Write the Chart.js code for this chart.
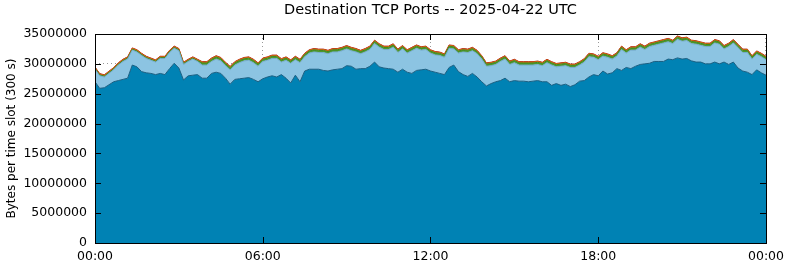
<!DOCTYPE html>
<html>
<head>
<meta charset="utf-8">
<script src="https://cdn.jsdelivr.net/npm/chart.js@4.4.1/dist/chart.umd.min.js"></script>
<style>
  html, body { margin: 0; padding: 0; background: #fff; }
  canvas { display: block; }
</style>
</head>
<body>
<canvas id="chart" width="790" height="267"></canvas>
<script>
// 10 minute slots over the day, 0..144
const slots = Array.from({ length: 145 }, (_, i) => i);

const xTickSlots = [0, 36, 72, 108, 144];
const xTickLabels = ['00:00', '06:00', '12:00', '18:00', '00:00'];
const yTicks = [0, 5000000, 10000000, 15000000, 20000000, 25000000, 30000000, 35000000];

// values in millions of bytes per slot
const darkBlue = [
    27.0, 25.9, 26.0, 26.5, 27.0, 27.2, 27.4, 27.6, 29.8, 29.5,
    28.7, 28.5, 28.4, 28.2, 28.4, 28.2, 29.2, 30.1, 29.3, 27.3,
    28.0, 28.1, 28.2, 27.6, 27.6, 28.4, 28.6, 28.4, 27.6, 26.6,
    27.4, 27.5, 27.6, 27.7, 27.4, 27.0, 27.5, 27.8, 28.0, 27.8,
    28.2, 27.6, 26.8, 28.1, 27.0, 28.8, 29.1, 29.1, 29.1, 28.9,
    28.8, 29.0, 29.1, 29.2, 29.7, 29.6, 29.1, 29.2, 29.2, 29.6,
    30.3, 29.5, 29.3, 29.2, 29.1, 28.6, 29.1, 28.6, 28.4, 28.9,
    29.0, 29.1, 28.8, 28.6, 28.4, 28.2, 29.4, 29.8, 28.7, 28.2,
    27.9, 28.4, 27.8, 27.0, 26.3, 26.7, 27.0, 27.2, 27.6, 27.0,
    27.2, 27.1, 27.1, 27.0, 27.1, 27.2, 27.0, 27.0, 26.4, 26.7,
    26.4, 26.6, 26.2, 26.5, 27.1, 27.2, 27.8, 28.2, 28.0, 28.8,
    28.3, 28.5, 29.2, 28.9, 29.4, 29.2, 29.6, 29.9, 30.0, 30.1,
    30.4, 30.4, 30.4, 30.8, 30.7, 31.0, 30.8, 30.9, 30.5, 30.3,
    30.3, 30.0, 30.0, 30.3, 30.0, 30.3, 29.9, 30.3, 29.3, 28.8,
    28.6, 28.2, 29.0, 28.5, 28.1
];
const lightBlue = [
    2.1, 2.1, 1.8, 1.9, 2.0, 2.6, 3.0, 3.2, 2.5, 2.5,
    2.7, 2.4, 2.2, 2.1, 2.5, 2.7, 2.7, 2.5, 2.9, 2.6,
    2.4, 2.7, 2.2, 2.2, 2.2, 2.0, 2.2, 2.1, 2.1, 2.4,
    2.4, 2.7, 2.9, 2.9, 2.8, 2.6, 2.9, 2.8, 2.9, 3.1,
    2.1, 3.0, 3.3, 2.6, 3.2, 2.4, 2.7, 2.9, 2.8, 3.0,
    2.9, 3.0, 2.9, 3.0, 2.8, 2.6, 2.9, 2.5, 2.8, 2.8,
    3.1, 3.3, 3.1, 3.2, 3.7, 3.3, 3.4, 3.2, 3.8, 3.7,
    3.3, 3.3, 3.0, 2.9, 3.0, 2.9, 3.2, 2.7, 3.1, 3.8,
    4.0, 3.8, 3.9, 3.8, 3.3, 3.0, 2.9, 3.2, 3.2, 2.9,
    3.0, 2.7, 2.7, 2.8, 2.7, 2.7, 2.7, 3.2, 3.4, 2.8,
    3.2, 3.1, 3.2, 2.9, 2.7, 3.1, 3.4, 2.9, 2.7, 2.5,
    2.8, 2.3, 2.1, 3.5, 2.4, 3.1, 2.7, 2.9, 2.4, 2.8,
    2.7, 2.9, 3.1, 2.9, 2.7, 3.1, 3.0, 3.0, 2.9, 3.0,
    2.8, 2.9, 2.9, 3.2, 3.3, 2.2, 3.0, 3.2, 3.4, 3.1,
    3.3, 2.6, 2.6, 2.7, 2.6
];
const green = [
    0.15, 0.15, 0.15, 0.15, 0.15, 0.15, 0.15, 0.15, 0.15, 0.15,
    0.15, 0.15, 0.15, 0.15, 0.15, 0.15, 0.15, 0.15, 0.15, 0.15,
    0.15, 0.15, 0.15, 0.35, 0.35, 0.35, 0.35, 0.35, 0.35, 0.35,
    0.35, 0.35, 0.35, 0.35, 0.35, 0.35, 0.35, 0.35, 0.35, 0.35,
    0.35, 0.35, 0.35, 0.35, 0.35, 0.35, 0.35, 0.35, 0.35, 0.35,
    0.35, 0.35, 0.35, 0.35, 0.35, 0.35, 0.35, 0.35, 0.35, 0.35,
    0.35, 0.35, 0.35, 0.35, 0.35, 0.35, 0.35, 0.35, 0.35, 0.35,
    0.35, 0.35, 0.35, 0.35, 0.35, 0.35, 0.35, 0.35, 0.35, 0.35,
    0.35, 0.35, 0.35, 0.35, 0.35, 0.35, 0.35, 0.35, 0.35, 0.35,
    0.35, 0.35, 0.35, 0.35, 0.35, 0.35, 0.35, 0.35, 0.35, 0.35,
    0.35, 0.35, 0.35, 0.35, 0.35, 0.35, 0.35, 0.35, 0.35, 0.35,
    0.35, 0.35, 0.35, 0.35, 0.35, 0.35, 0.35, 0.35, 0.35, 0.35,
    0.35, 0.35, 0.35, 0.35, 0.35, 0.35, 0.35, 0.35, 0.35, 0.35,
    0.35, 0.35, 0.35, 0.35, 0.35, 0.35, 0.35, 0.35, 0.35, 0.35,
    0.35, 0.35, 0.35, 0.35, 0.35
];
const orange = [
    0.15, 0.15, 0.15, 0.15, 0.15, 0.15, 0.15, 0.15, 0.15, 0.15,
    0.15, 0.15, 0.15, 0.15, 0.15, 0.15, 0.15, 0.15, 0.15, 0.15,
    0.15, 0.15, 0.15, 0.15, 0.15, 0.15, 0.15, 0.15, 0.15, 0.15,
    0.15, 0.15, 0.15, 0.15, 0.15, 0.15, 0.15, 0.15, 0.15, 0.15,
    0.15, 0.15, 0.15, 0.15, 0.15, 0.15, 0.15, 0.15, 0.15, 0.15,
    0.15, 0.15, 0.15, 0.15, 0.15, 0.15, 0.15, 0.15, 0.15, 0.15,
    0.15, 0.15, 0.15, 0.15, 0.15, 0.15, 0.15, 0.15, 0.15, 0.15,
    0.15, 0.15, 0.15, 0.15, 0.15, 0.15, 0.15, 0.15, 0.15, 0.15,
    0.15, 0.15, 0.15, 0.15, 0.15, 0.15, 0.15, 0.15, 0.15, 0.15,
    0.15, 0.15, 0.15, 0.15, 0.15, 0.15, 0.15, 0.15, 0.15, 0.15,
    0.15, 0.15, 0.15, 0.15, 0.15, 0.15, 0.15, 0.15, 0.15, 0.15,
    0.15, 0.15, 0.15, 0.15, 0.15, 0.15, 0.15, 0.15, 0.15, 0.15,
    0.15, 0.15, 0.15, 0.15, 0.15, 0.15, 0.15, 0.15, 0.15, 0.15,
    0.15, 0.15, 0.15, 0.15, 0.15, 0.15, 0.15, 0.15, 0.15, 0.15,
    0.15, 0.15, 0.15, 0.15, 0.15
];
const red = [
    0.07, 0.07, 0.07, 0.07, 0.07, 0.07, 0.07, 0.07, 0.07, 0.07,
    0.07, 0.07, 0.07, 0.07, 0.07, 0.07, 0.07, 0.07, 0.07, 0.07,
    0.07, 0.07, 0.07, 0.07, 0.07, 0.07, 0.07, 0.07, 0.07, 0.07,
    0.07, 0.07, 0.07, 0.07, 0.07, 0.07, 0.07, 0.07, 0.07, 0.07,
    0.07, 0.07, 0.07, 0.07, 0.07, 0.07, 0.07, 0.07, 0.07, 0.07,
    0.07, 0.07, 0.07, 0.07, 0.07, 0.07, 0.07, 0.07, 0.07, 0.07,
    0.07, 0.07, 0.07, 0.07, 0.07, 0.07, 0.07, 0.07, 0.07, 0.07,
    0.07, 0.07, 0.07, 0.07, 0.07, 0.07, 0.07, 0.07, 0.07, 0.07,
    0.07, 0.07, 0.07, 0.07, 0.07, 0.07, 0.07, 0.07, 0.07, 0.07,
    0.07, 0.07, 0.07, 0.07, 0.07, 0.07, 0.07, 0.07, 0.07, 0.07,
    0.07, 0.07, 0.07, 0.07, 0.07, 0.07, 0.07, 0.07, 0.07, 0.07,
    0.07, 0.07, 0.07, 0.07, 0.07, 0.07, 0.07, 0.07, 0.07, 0.07,
    0.07, 0.07, 0.07, 0.07, 0.07, 0.07, 0.07, 0.07, 0.07, 0.07,
    0.07, 0.07, 0.07, 0.07, 0.07, 0.07, 0.07, 0.07, 0.07, 0.07,
    0.07, 0.07, 0.07, 0.07, 0.07
];

const FONT = 'DejaVu Sans';
const toBytes = arr => arr.map(v => v * 1e6);

function layer(data, fill, line, first) {
    return {
        data: toBytes(data),
        backgroundColor: fill,
        borderColor: line,
        borderWidth: 1,
        fill: first ? 'origin' : '-1',
        pointRadius: 0,
        tension: 0
    };
}

// gnuplot style box with inward tick marks on all four sides
const frame = {
    id: 'frame',
    afterDatasetsDraw(chart) {
        const { ctx, chartArea: a, scales: { x, y } } = chart;
        ctx.save();
        ctx.strokeStyle = '#000';
        ctx.lineWidth = 1;
        ctx.beginPath();
        yTicks.forEach(v => {
            const py = Math.round(y.getPixelForValue(v)) + 0.5;
            ctx.moveTo(a.left, py); ctx.lineTo(a.left + 6, py);
            ctx.moveTo(a.right, py); ctx.lineTo(a.right - 6, py);
        });
        xTickSlots.forEach(s => {
            const px = Math.round(x.getPixelForValue(s)) + 0.5;
            ctx.moveTo(px, a.bottom); ctx.lineTo(px, a.bottom - 6);
            ctx.moveTo(px, a.top); ctx.lineTo(px, a.top + 6);
        });
        ctx.stroke();
        ctx.strokeRect(Math.round(a.left) + 0.5, Math.round(a.top) + 0.5,
            Math.round(a.right - a.left), Math.round(a.bottom - a.top));
        ctx.restore();
    }
};

new Chart(document.getElementById('chart'), {
    type: 'line',
    data: {
        labels: slots,
        datasets: [
            layer(darkBlue, '#0082b4', '#1b5f82', true),
            layer(lightBlue, '#8cc4e2', '#74aacb'),
            layer(green, '#4e9a2a', '#3f8620'),
            layer(orange, '#e8730e', '#d0640a'),
            layer(red, '#c9282a', '#b01e20')
        ]
    },
    options: {
        responsive: false,
        animation: false,
        devicePixelRatio: 1,
        layout: { padding: { left: 0, right: 22, top: 0, bottom: 0 } },
        plugins: {
            legend: { display: false },
            tooltip: { enabled: false },
            title: {
                display: true,
                fullSize: false,
                text: 'Destination TCP Ports -- 2025-04-22 UTC',
                color: '#000',
                font: { family: FONT, size: 14.5, weight: 'normal' },
                padding: { top: 2, bottom: 14.6 }
            }
        },
        scales: {
            x: {
                type: 'linear',
                min: 0,
                max: 144,
                grid: { color: '#999', drawTicks: false },
                border: { display: false, dash: [1, 3] },
                ticks: {
                    stepSize: 36,
                    padding: 6,
                    color: '#000',
                    font: { family: FONT, size: 12.5 },
                    maxRotation: 0,
                    callback: v => xTickLabels[xTickSlots.indexOf(v)]
                },
                afterFit: s => { s.height = 24; }
            },
            y: {
                stacked: true,
                min: 0,
                max: 35000000,
                grid: { color: '#999', drawTicks: false },
                border: { display: false, dash: [1, 3] },
                ticks: {
                    stepSize: 5000000,
                    padding: 8,
                    color: '#000',
                    font: { family: FONT, size: 12.5 },
                    callback: v => String(v)
                },
                title: {
                    display: true,
                    text: 'Bytes per time slot (300 s)',
                    color: '#000',
                    font: { family: FONT, size: 12 },
                    padding: { top: 5, bottom: 0 }
                },
                afterFit: s => { s.width = 95; }
            }
        }
    },
    plugins: [frame]
});
</script>
</body>
</html>
